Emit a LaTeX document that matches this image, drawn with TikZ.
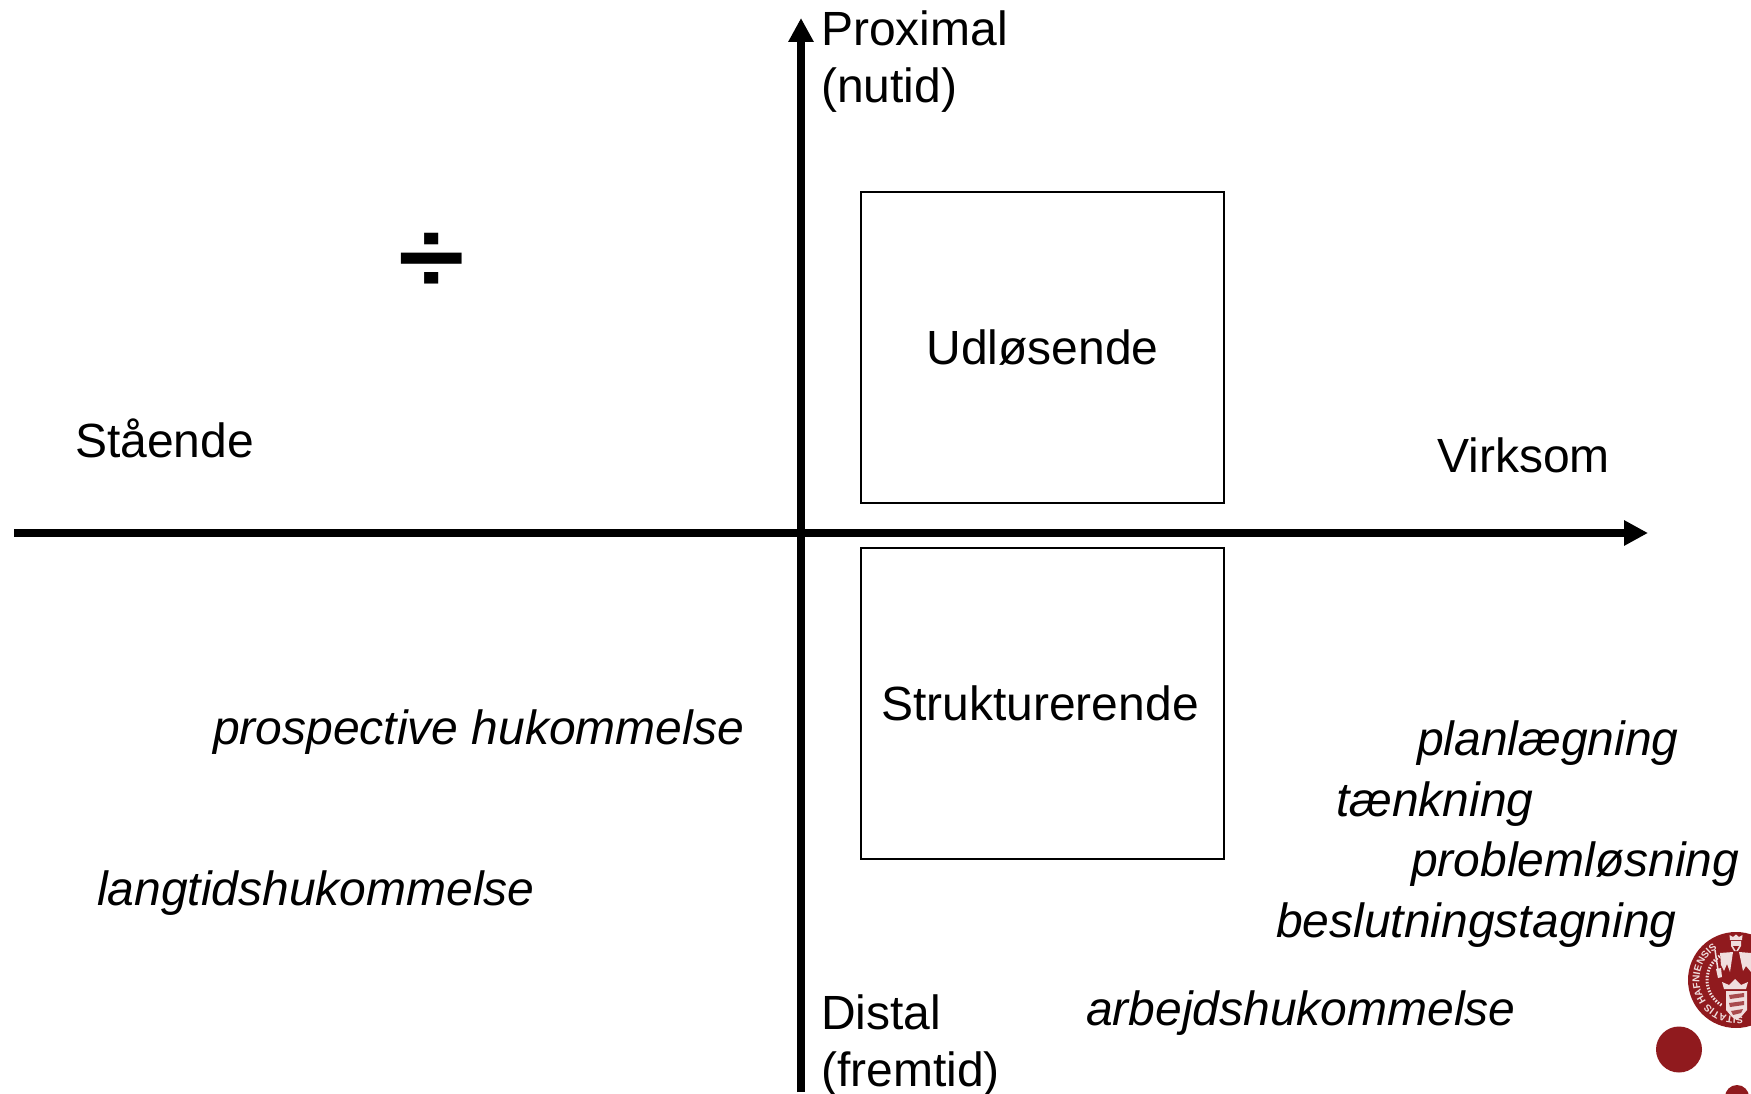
\documentclass[tikz,border=0pt]{standalone}
\usepackage{fontspec}
\usepackage{graphicx}
\setmainfont{Liberation Sans}
\usetikzlibrary{arrows.meta,decorations.text}
\definecolor{kured}{RGB}{144,26,30}
\definecolor{kupale}{RGB}{240,222,222}
\tikzset{
  lbl/.style={anchor=base west,inner sep=0pt,font=\fontsize{48}{50}\selectfont},
  ital/.style={lbl,font=\fontsize{48}{50}\selectfont\itshape},
  mid/.style={anchor=base,inner sep=0pt,font=\fontsize{48}{50}\selectfont},
  boxed/.style={draw=black,line width=2pt,inner sep=0pt,minimum width=363pt,minimum height=311pt,anchor=north west},
  axis/.style={line width=8pt,-{Triangle[length=24pt,width=24pt]}},
  dotk/.style={circle,fill=kured,inner sep=0pt},
  pale/.style={fill=kupale,draw=none}
}
\begin{document}
\begin{tikzpicture}[x=1pt,y=-1pt]
\useasboundingbox (0,0) rectangle (1751,1094);
\coordinate (hs) at (14,533); \coordinate (he) at (1648,533);
\coordinate (vs) at (801,1092); \coordinate (ve) at (801,18);
\draw[axis] (hs) -- (he);
\draw[axis] (vs) -- (ve);
\node[boxed] (udl) at (860,191) {};
\node[boxed] (str) at (860,547) {};
\node[mid] (udlt) at (1042.5,364.5) {Udløsende};
\node[mid] (strt) at (1040,720) {Strukturerende};
\node[lbl] (prox) at (821,46) {Proximal};
\node[lbl] (nut) at (821,103) {(nutid)};
\node[lbl] (dist) at (821,1029.5) {Distal};
\node[lbl] (fremt) at (821,1086.5) {(fremtid)};
\node[lbl] (staa) at (75,457.5) {Stående};
\node[lbl] (virk) at (1437,472.5) {Virksom};
\node[anchor=center,inner sep=0pt,font=\fontsize{121}{121}\selectfont\bfseries] (div) at (431.5,263) {\scalebox{1}[0.84]{÷}};
\node[ital] (pros) at (213,744.5) {prospective hukommelse};
\node[ital] (lang) at (97,905.5) {langtidshukommelse};
\node[ital] (plan) at (1417,755.5) {planlægning};
\node[ital] (taen) at (1336,816) {tænkning};
\node[ital] (prob) at (1411,876.5) {problemløsning};
\node[ital] (besl) at (1276,937.5) {beslutningstagning};
\node[ital] (arbe) at (1086,1025) {arbejdshukommelse};
% logo
\node[dotk,minimum size=96pt] (seal) at (1736,980) {};
\node[dotk,minimum size=46pt] (d1) at (1679,1049.5) {};
\node[dotk,minimum size=24pt] (d2) at (1737,1097) {};
\path[postaction={decorate,decoration={text along path,text align=center,
  text={|\fontsize{10}{11}\selectfont\bfseries\color{kupale}|SITATIS HAFNIENSIS}}}]
  (seal) ++(66:36.5) arc[start angle=66,end angle=253,radius=36.5];
\draw[kupale,line width=3pt,dash pattern=on 1.5pt off 1.5pt] (seal) ++(120:29) arc[start angle=120,end angle=240,radius=29];
% king
\fill[pale] (1730,940) -- (1729.5,935) -- (1733,937) -- (1736,934.5) -- (1739,937) -- (1742.5,935) -- (1742,940) -- cycle;
\fill[pale] (1731,941) -- (1741,941) -- (1741,946) -- (1738,951) -- (1734,951) -- (1731,946) -- cycle;
\fill[kured] (1733,946) -- (1739,946) -- (1736,951) -- cycle;
\fill[pale] (1720,953) -- (1733,952) -- (1730,972) -- (1727,964) -- (1724,971) -- (1721,965) -- cycle;
\fill[pale] (1739,952) -- (1751,953) -- (1751,972) -- (1746,966) -- (1743,971) -- cycle;
\draw[kupale,line width=1.5pt] (1715,950) -- (1718,970);
\fill[pale] (1716,969) -- (1721,968) -- (1722,977) -- (1718,978) -- cycle;
% crown over shield
\fill[pale] (1722,982) -- (1729,985) -- (1735,979) -- (1741,985) -- (1748,982) -- (1746,989) -- (1724,989) -- cycle;
% shield
\fill[pale] (1726,991) -- (1747,991) -- (1747,1010) -- (1741,1017) -- (1736.5,1020) -- (1732,1017) -- (1726,1010) -- cycle;
\fill[kured!75!kupale] (1729,995) -- (1744,993) -- (1744,997) -- (1730,999) -- cycle;
\fill[kured!75!kupale] (1729,1003) -- (1744,1001) -- (1744,1005) -- (1730,1007) -- cycle;
\fill[kured!75!kupale] (1731,1011) -- (1743,1009) -- (1741,1013) -- (1733,1015) -- cycle;
\end{tikzpicture}
\end{document}
